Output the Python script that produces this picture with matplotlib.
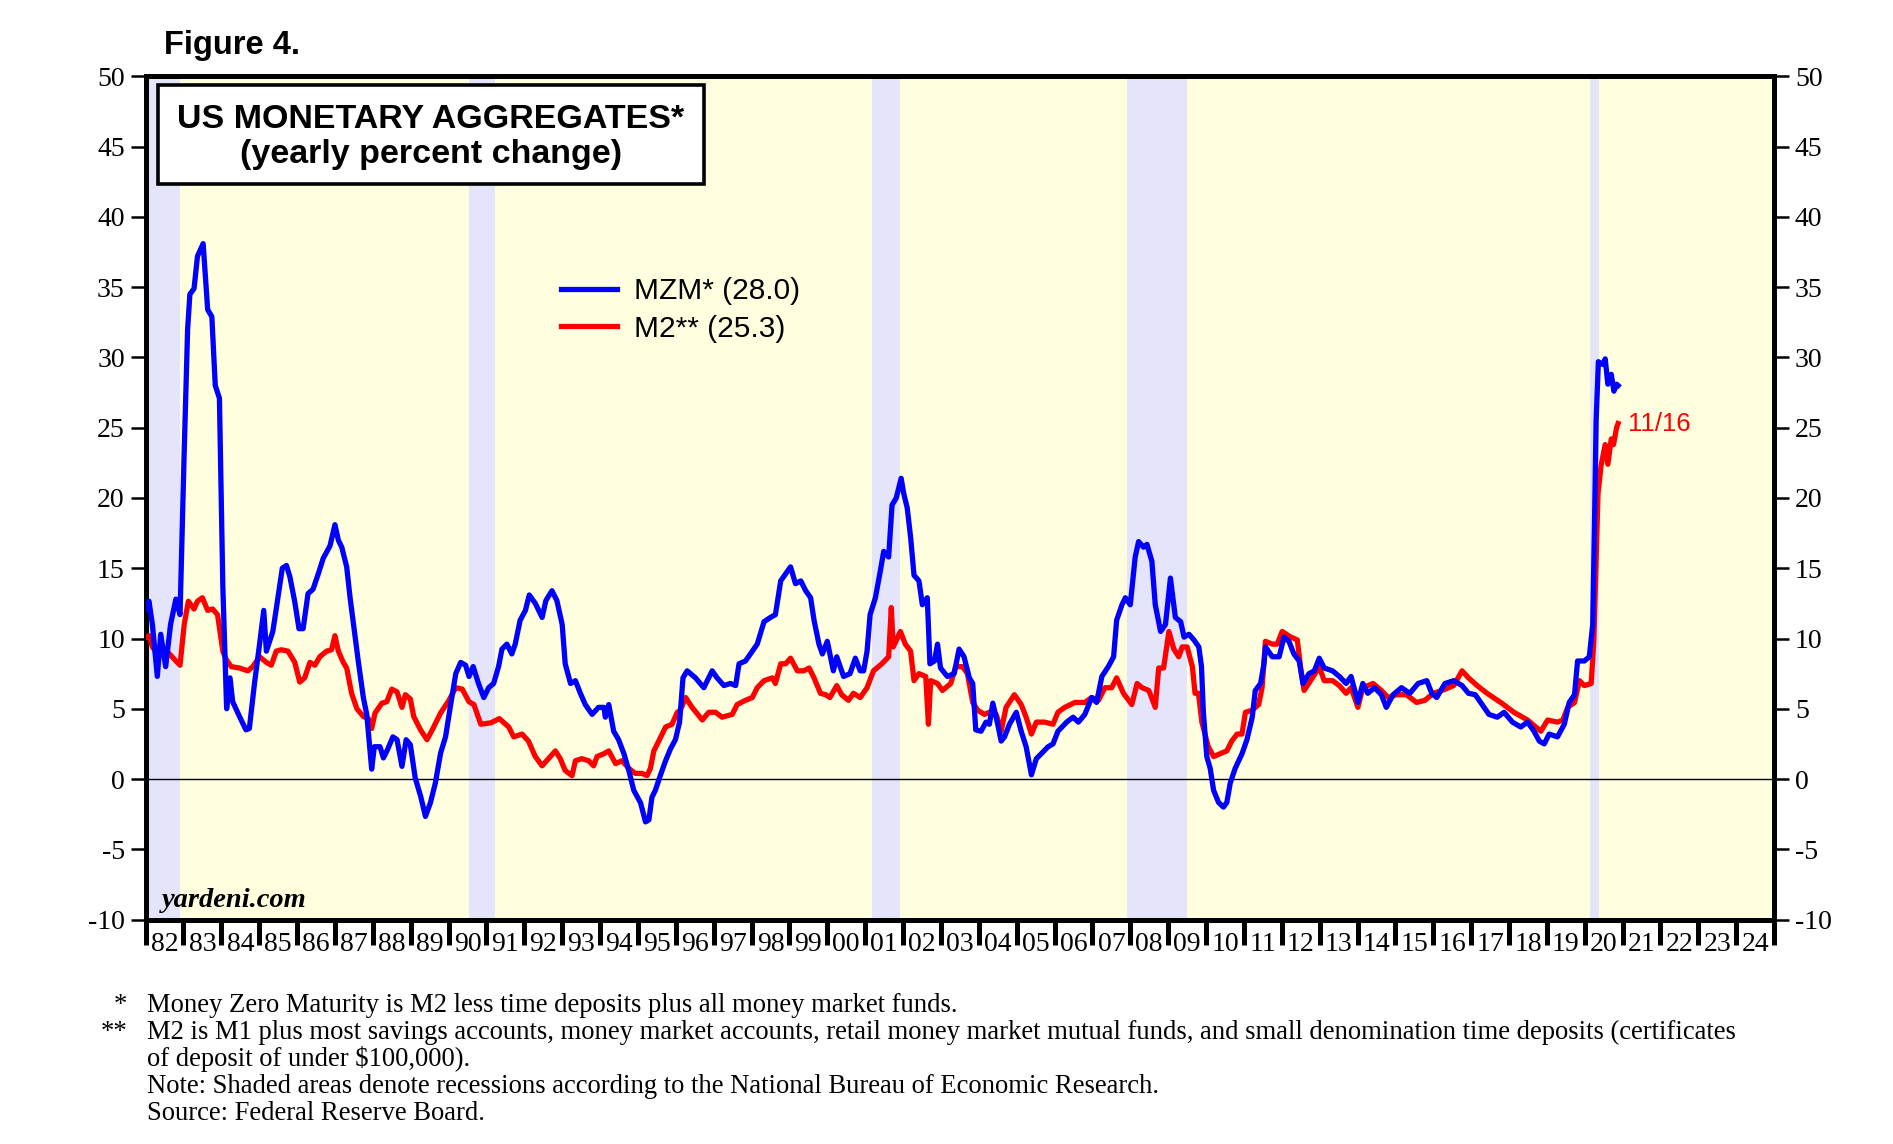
import matplotlib
matplotlib.use('Agg')
import matplotlib.pyplot as plt
from matplotlib.patches import Rectangle
from matplotlib.ticker import FixedLocator, NullFormatter, FixedFormatter

plt.rcParams['font.family'] = 'Liberation Serif'
plt.rcParams['axes.unicode_minus'] = False

# MZM yearly % change
mzm_year = [1982.00, 1982.09, 1982.18, 1982.31, 1982.40, 1982.53, 1982.66, 1982.80, 1982.91, 1983.02,
            1983.11, 1983.17, 1983.28, 1983.37, 1983.52, 1983.64, 1983.75, 1983.84, 1983.95, 1984.04,
            1984.14, 1984.23, 1984.30, 1984.48, 1984.65, 1984.74, 1984.88, 1985.01, 1985.12, 1985.19,
            1985.36, 1985.45, 1985.61, 1985.72, 1985.81, 1985.94, 1986.05, 1986.16, 1986.29, 1986.42,
            1986.56, 1986.69, 1986.87, 1987.00, 1987.09, 1987.18, 1987.31, 1987.40, 1987.49, 1987.62,
            1987.75, 1987.84, 1987.97, 1988.04, 1988.19, 1988.28, 1988.39, 1988.53, 1988.64, 1988.77,
            1988.88, 1988.99, 1989.12, 1989.26, 1989.39, 1989.52, 1989.65, 1989.79, 1989.92, 1990.05,
            1990.19, 1990.32, 1990.45, 1990.54, 1990.65, 1990.79, 1990.93, 1991.06, 1991.19, 1991.32,
            1991.41, 1991.54, 1991.67, 1991.76, 1991.89, 1992.03, 1992.13, 1992.29, 1992.47, 1992.57,
            1992.73, 1992.86, 1993.00, 1993.08, 1993.22, 1993.35, 1993.48, 1993.61, 1993.79, 1993.96,
            1994.10, 1994.14, 1994.23, 1994.36, 1994.49, 1994.63, 1994.76, 1994.89, 1995.07, 1995.20,
            1995.29, 1995.37, 1995.46, 1995.59, 1995.73, 1995.86, 1995.99, 1996.10, 1996.19, 1996.30,
            1996.52, 1996.74, 1996.96, 1997.09, 1997.27, 1997.44, 1997.58, 1997.67, 1997.84, 1997.97,
            1998.15, 1998.33, 1998.50, 1998.63, 1998.77, 1998.90, 1999.03, 1999.16, 1999.30, 1999.43,
            1999.56, 1999.65, 1999.78, 1999.87, 2000.00, 2000.16, 2000.25, 2000.43, 2000.60, 2000.74,
            2000.87, 2000.96, 2001.05, 2001.13, 2001.27, 2001.40, 2001.49, 2001.62, 2001.71, 2001.82,
            2001.95, 2002.02, 2002.11, 2002.20, 2002.29, 2002.42, 2002.51, 2002.64, 2002.71, 2002.83,
            2002.91, 2002.99, 2003.17, 2003.35, 2003.48, 2003.61, 2003.75, 2003.84, 2003.92, 2004.06,
            2004.19, 2004.28, 2004.37, 2004.50, 2004.59, 2004.68, 2004.81, 2004.99, 2005.12, 2005.25,
            2005.39, 2005.52, 2005.65, 2005.83, 2005.96, 2006.09, 2006.32, 2006.49, 2006.63, 2006.80,
            2006.98, 2007.11, 2007.25, 2007.42, 2007.56, 2007.64, 2007.78, 2007.87, 2008.00, 2008.13,
            2008.22, 2008.35, 2008.44, 2008.57, 2008.66, 2008.80, 2008.93, 2009.06, 2009.19, 2009.33,
            2009.42, 2009.55, 2009.68, 2009.81, 2009.88, 2009.93, 2010.02, 2010.11, 2010.20, 2010.33,
            2010.46, 2010.55, 2010.64, 2010.77, 2010.95, 2011.08, 2011.22, 2011.30, 2011.44, 2011.53,
            2011.57, 2011.75, 2011.93, 2012.06, 2012.19, 2012.32, 2012.46, 2012.56, 2012.72, 2012.86,
            2012.99, 2013.12, 2013.34, 2013.52, 2013.70, 2013.83, 2014.01, 2014.14, 2014.27, 2014.45,
            2014.63, 2014.76, 2014.94, 2015.16, 2015.38, 2015.60, 2015.83, 2015.96, 2016.09, 2016.31,
            2016.54, 2016.76, 2016.93, 2017.11, 2017.29, 2017.47, 2017.69, 2017.87, 2018.09, 2018.31,
            2018.49, 2018.66, 2018.80, 2018.93, 2019.06, 2019.28, 2019.46, 2019.59, 2019.73, 2019.81,
            2019.99, 2020.12, 2020.21, 2020.26, 2020.30, 2020.36, 2020.48, 2020.54, 2020.61, 2020.70,
            2020.77, 2020.84, 2020.88]
mzm_value = [12.1, 12.65, 11.0, 7.3, 10.3, 8.0, 11.0, 12.8, 11.7, 23.3,
             32.0, 34.5, 34.9, 37.2, 38.1, 33.4, 32.9, 28.0, 27.1, 13.7,
             5.0, 7.2, 5.5, 4.45, 3.5, 3.6, 6.9, 9.6, 12.0, 9.1,
             10.5, 12.1, 15.0, 15.2, 14.4, 12.6, 10.7, 10.7, 13.2, 13.5,
             14.6, 15.7, 16.6, 18.1, 17.0, 16.5, 15.1, 12.9, 11.0, 8.3,
             5.8, 4.6, 0.7, 2.3, 2.3, 1.5, 2.1, 3.0, 2.8, 0.9,
             2.8, 2.45, 0.07, -1.2, -2.66, -1.7, -0.3, 1.85, 3.0, 5.2,
             7.5, 8.3, 8.1, 7.3, 8.0, 6.8, 5.8, 6.5, 6.8, 8.0,
             9.25, 9.6, 8.9, 9.6, 11.3, 12.0, 13.1, 12.5, 11.5, 12.7,
             13.4, 12.7, 11.0, 8.2, 6.8, 7.0, 6.1, 5.3, 4.6, 5.1,
             5.1, 4.4, 5.3, 3.4, 2.8, 1.8, 0.6, -0.8, -1.7, -3.05,
             -2.9, -1.3, -0.8, 0.24, 1.3, 2.15, 2.8, 4.05, 7.2, 7.7,
             7.2, 6.5, 7.7, 7.2, 6.65, 6.8, 6.65, 8.2, 8.4, 8.9,
             9.6, 11.2, 11.5, 11.7, 14.1, 14.6, 15.1, 13.9, 14.1, 13.4,
             12.9, 11.3, 9.6, 8.9, 9.8, 7.7, 8.7, 7.3, 7.5, 8.6,
             7.7, 7.7, 9.1, 11.7, 12.9, 14.8, 16.2, 15.8, 19.5, 20.0,
             21.4, 20.3, 19.3, 17.2, 14.5, 14.1, 12.4, 12.9, 8.2, 8.4,
             9.6, 7.9, 7.3, 7.5, 9.25, 8.7, 7.2, 6.8, 3.5, 3.4,
             4.05, 3.9, 5.4, 3.9, 2.7, 3.0, 3.9, 4.75, 3.4, 2.3,
             0.3, 1.45, 1.8, 2.3, 2.5, 3.4, 4.05, 4.4, 4.05, 4.6,
             5.8, 5.45, 7.3, 8.0, 8.7, 11.3, 12.4, 12.9, 12.4, 15.8,
             16.9, 16.5, 16.7, 15.5, 12.4, 10.5, 11.0, 14.3, 11.5, 11.2,
             10.1, 10.3, 9.9, 9.4, 8.0, 4.75, 1.6, 0.76, -0.8, -1.66,
             -2.0, -1.66, -0.28, 0.76, 1.8, 2.8, 4.4, 6.3, 6.8, 8.2,
             9.4, 8.7, 8.7, 10.1, 9.8, 8.9, 8.4, 6.8, 7.5, 7.7,
             8.6, 7.9, 7.7, 7.3, 6.8, 7.3, 5.45, 6.8, 6.1, 6.5,
             6.0, 5.1, 6.0, 6.5, 6.1, 6.8, 7.0, 6.1, 5.8, 6.8,
             7.0, 6.65, 6.1, 6.0, 5.3, 4.6, 4.4, 4.75, 4.05, 3.7,
             4.05, 3.4, 2.7, 2.5, 3.2, 3.0, 3.9, 5.45, 6.0, 8.4,
             8.4, 8.7, 11.0, 18.6, 25.5, 29.7, 29.5, 29.9, 28.1, 28.8,
             27.6, 28.1, 28.0]

# M2 yearly % change
m2_year = [1982.00, 1982.09, 1982.18, 1982.35, 1982.53, 1982.75, 1982.91, 1983.02, 1983.13, 1983.28,
           1983.37, 1983.50, 1983.64, 1983.77, 1983.90, 1984.04, 1984.12, 1984.26, 1984.48, 1984.70,
           1984.83, 1985.01, 1985.19, 1985.32, 1985.45, 1985.58, 1985.76, 1985.94, 1986.07, 1986.20,
           1986.34, 1986.47, 1986.60, 1986.78, 1986.91, 1987.00, 1987.09, 1987.22, 1987.31, 1987.44,
           1987.58, 1987.75, 1987.88, 1987.97, 1988.06, 1988.24, 1988.37, 1988.50, 1988.64, 1988.77,
           1988.86, 1988.99, 1989.08, 1989.26, 1989.43, 1989.57, 1989.79, 1990.01, 1990.19, 1990.36,
           1990.54, 1990.67, 1990.85, 1991.12, 1991.34, 1991.59, 1991.72, 1991.94, 1992.11, 1992.29,
           1992.47, 1992.64, 1992.82, 1992.95, 1993.08, 1993.26, 1993.35, 1993.52, 1993.70, 1993.83,
           1993.92, 1994.10, 1994.23, 1994.41, 1994.58, 1994.76, 1994.93, 1995.11, 1995.24, 1995.33,
           1995.42, 1995.55, 1995.73, 1995.90, 1996.04, 1996.12, 1996.26, 1996.43, 1996.70, 1996.87,
           1997.05, 1997.22, 1997.49, 1997.62, 1997.84, 1998.02, 1998.15, 1998.33, 1998.55, 1998.63,
           1998.77, 1998.90, 1999.03, 1999.21, 1999.38, 1999.52, 1999.65, 1999.82, 1999.96, 2000.07,
           2000.25, 2000.38, 2000.56, 2000.69, 2000.87, 2001.05, 2001.22, 2001.44, 2001.62, 2001.69,
           2001.74, 2001.93, 2002.06, 2002.20, 2002.29, 2002.42, 2002.60, 2002.67, 2002.73, 2002.91,
           2003.04, 2003.26, 2003.39, 2003.57, 2003.70, 2003.84, 2003.97, 2004.15, 2004.28, 2004.46,
           2004.59, 2004.72, 2004.94, 2005.12, 2005.25, 2005.39, 2005.52, 2005.74, 2005.96, 2006.09,
           2006.27, 2006.54, 2006.80, 2006.98, 2007.16, 2007.33, 2007.51, 2007.64, 2007.82, 2008.04,
           2008.18, 2008.31, 2008.49, 2008.66, 2008.75, 2008.88, 2009.02, 2009.15, 2009.28, 2009.37,
           2009.50, 2009.64, 2009.71, 2009.80, 2009.89, 2010.06, 2010.20, 2010.37, 2010.55, 2010.68,
           2010.82, 2010.95, 2011.04, 2011.22, 2011.39, 2011.48, 2011.57, 2011.75, 2011.88, 2012.01,
           2012.24, 2012.41, 2012.50, 2012.59, 2012.81, 2012.99, 2013.12, 2013.34, 2013.52, 2013.70,
           2013.83, 2014.01, 2014.14, 2014.41, 2014.63, 2014.81, 2015.03, 2015.29, 2015.56, 2015.78,
           2016.00, 2016.23, 2016.54, 2016.76, 2016.93, 2017.16, 2017.42, 2017.78, 2018.13, 2018.49,
           2018.84, 2019.02, 2019.28, 2019.42, 2019.55, 2019.73, 2019.86, 2019.99, 2020.17, 2020.24,
           2020.35, 2020.43, 2020.54, 2020.61, 2020.70, 2020.76, 2020.84, 2020.88]
m2_value = [10.05, 10.2, 9.4, 8.8, 9.2, 8.55, 8.1, 11.0, 12.65, 12.1,
            12.65, 12.9, 12.0, 12.1, 11.7, 9.1, 8.55, 8.0, 7.9, 7.7,
            8.0, 8.7, 8.3, 8.1, 9.1, 9.2, 9.1, 8.3, 6.9, 7.2,
            8.3, 8.1, 8.7, 9.1, 9.2, 10.2, 9.1, 8.3, 7.9, 6.1,
            5.0, 4.45, 4.3, 3.6, 4.7, 5.4, 5.5, 6.4, 6.2, 5.1,
            6.0, 5.7, 4.45, 3.5, 2.8, 3.5, 4.7, 5.6, 6.5, 6.4,
            5.5, 5.3, 3.9, 4.0, 4.3, 3.7, 3.0, 3.2, 2.7, 1.6,
            0.94, 1.45, 2.0, 1.45, 0.6, 0.24, 1.3, 1.45, 1.3, 0.94,
            1.6, 1.8, 2.0, 1.1, 1.3, 0.76, 0.4, 0.4, 0.24, 0.76,
            2.0, 2.7, 3.7, 3.9, 4.75, 4.9, 5.8, 5.1, 4.2, 4.75,
            4.75, 4.4, 4.6, 5.3, 5.6, 5.8, 6.5, 7.0, 7.2, 6.8,
            8.2, 8.2, 8.6, 7.7, 7.7, 7.9, 7.2, 6.1, 6.0, 5.8,
            6.65, 6.0, 5.6, 6.1, 5.8, 6.5, 7.7, 8.2, 8.7, 12.2,
            9.4, 10.5, 9.6, 9.1, 7.0, 7.5, 7.3, 3.9, 7.0, 6.8,
            6.3, 6.8, 8.0, 8.0, 7.5, 5.45, 4.9, 4.6, 4.75, 4.6,
            3.4, 5.1, 6.0, 5.3, 4.4, 3.2, 4.05, 4.05, 3.9, 4.75,
            5.1, 5.45, 5.45, 5.8, 5.6, 6.5, 6.5, 7.2, 6.1, 5.3,
            6.8, 6.5, 6.3, 5.1, 7.9, 7.9, 10.5, 9.25, 8.7, 9.4,
            9.4, 8.0, 6.1, 6.1, 4.05, 2.3, 1.6, 1.8, 2.0, 2.7,
            3.2, 3.2, 4.75, 4.9, 5.3, 6.5, 9.8, 9.6, 9.6, 10.5,
            10.1, 9.9, 7.9, 6.3, 7.2, 8.0, 7.0, 7.0, 6.65, 6.1,
            6.5, 5.1, 6.5, 6.8, 6.3, 5.8, 6.0, 6.0, 5.45, 5.6,
            6.1, 6.3, 6.65, 7.7, 7.2, 6.65, 6.1, 5.45, 4.75, 4.2,
            3.4, 4.2, 4.05, 4.2, 5.1, 5.45, 7.0, 6.65, 6.8, 9.9,
            20.3, 22.3, 23.8, 22.4, 24.2, 23.8, 25.0, 25.3]

# NBER recessions (start, end) in decimal years
recessions = [(1981.5, 1982.9), (1990.55, 1991.22), (2001.17, 2001.93), (2007.92, 2009.5), (2020.15, 2020.37)]

year_labels = ['%02d' % (y % 100) for y in range(1982, 2025)]
y_ticks = list(range(-10, 51, 5))

footnotes = [
    ('*', 'Money Zero Maturity is M2 less time deposits plus all money market funds.'),
    ('**', 'M2 is M1 plus most savings accounts, money market accounts, retail money market mutual funds, and small denomination time deposits (certificates'),
    ('', 'of deposit of under $100,000).'),
    ('', 'Note: Shaded areas denote recessions according to the National Bureau of Economic Research.'),
    ('', 'Source: Federal Reserve Board.'),
]

serif = 'Liberation Serif'
sans = 'Liberation Sans'

fig = plt.figure(figsize=(18.93, 11.44), dpi=100)
fig.patch.set_facecolor('white')
ax = fig.add_axes([0.0769, 0.1962, 0.8603, 0.737])
ax.set_facecolor('#FFFFE0')

for start, end in recessions:
    ax.axvspan(start, end, color='#E4E4FA', lw=0, zorder=1)

ax.axhline(0, color='black', lw=1.0, zorder=2)

ax.plot(mzm_year, mzm_value, color='#0000FF', lw=3.8, solid_joinstyle='round', zorder=4,
        label='MZM* (%.1f)' % mzm_value[-1])
ax.plot(m2_year, m2_value, color='#FF0000', lw=3.8, solid_joinstyle='round', zorder=3,
        label='M2** (%.1f)' % m2_value[-1])
ax.text(m2_year[-1] + 0.27, m2_value[-1], '11/16', color='#FF0000', fontsize=18.5,
        family=sans, va='center', ha='left', zorder=5)

ax.set_xlim(1982, 2025)
ax.set_ylim(-10, 50)

for side in ['left', 'right', 'top', 'bottom']:
    ax.spines[side].set_linewidth(3.6)
    ax.spines[side].set_color('black')

# year boundaries get the ticks, labels sit between them
ax.xaxis.set_major_locator(FixedLocator(list(range(1982, 2026))))
ax.xaxis.set_major_formatter(NullFormatter())
ax.xaxis.set_minor_locator(FixedLocator([y + 0.5 for y in range(1982, 2025)]))
ax.xaxis.set_minor_formatter(FixedFormatter(year_labels))
ax.tick_params(axis='x', which='major', direction='out', length=18, width=3.6, color='black')
ax.tick_params(axis='x', which='minor', length=0, pad=9, labelsize=20)

ax.set_yticks(y_ticks)
ax.tick_params(axis='y', which='major', direction='out', length=11, width=1.8,
               labelsize=20, left=True, right=True, labelleft=True, labelright=True, pad=4)

# title box
ax.add_patch(Rectangle((0.0075, 0.872), 0.3355, 0.118, transform=ax.transAxes,
                       facecolor='white', edgecolor='black', lw=2.6, zorder=6))
ax.text(0.175, 0.949, 'US MONETARY AGGREGATES*', transform=ax.transAxes, ha='center', va='center',
        fontsize=24.5, fontweight='bold', family=sans, zorder=7)
ax.text(0.175, 0.907, '(yearly percent change)', transform=ax.transAxes, ha='center', va='center',
        fontsize=24.5, fontweight='bold', family=sans, zorder=7)

leg = ax.legend(loc='upper left', bbox_to_anchor=(0.2548, 0.762), frameon=False,
                prop={'family': sans, 'size': 21.5}, handlelength=1.9, handletextpad=0.55,
                labelspacing=0.32, borderpad=0, borderaxespad=0)
for line in leg.get_lines():
    line.set_linewidth(3.8)

ax.text(0.0097, 0.023, 'yardeni.com', transform=ax.transAxes, ha='left', va='center',
        fontsize=20.5, fontweight='bold', fontstyle='italic', family=serif, zorder=6)

fig.text(0.0865, 0.96, 'Figure 4.', ha='left', va='center', fontsize=23.5, fontweight='bold', family=sans)

# footnotes
line_y = [0.121, 0.0975, 0.074, 0.0505, 0.027]
for (mark, txt), yy in zip(footnotes, line_y):
    if mark:
        fig.text(0.0673, yy, mark, ha='right', va='center', fontsize=19.2, family=serif)
    fig.text(0.0776, yy, txt, ha='left', va='center', fontsize=19.2, family=serif)

fig.savefig('out.png', dpi=100)
